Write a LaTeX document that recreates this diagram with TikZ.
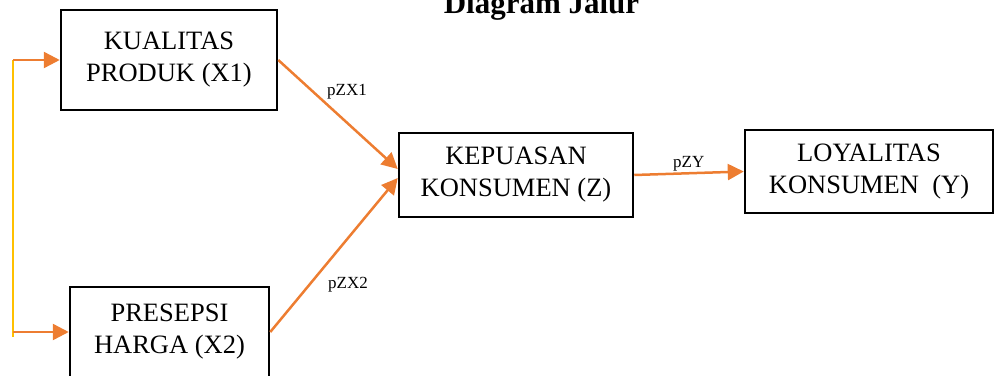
\documentclass[tikz,border=0pt]{standalone}
\usepackage{fontspec}
\setmainfont{Liberation Serif}
\usetikzlibrary{arrows.meta}
\definecolor{arrorange}{HTML}{ED7D31}
\definecolor{lineyellow}{HTML}{FFC000}
\tikzset{
  boxnode/.style={draw=black, line width=2.5pt, inner sep=0pt, align=center,
    font=\fontsize{26.5}{32}\selectfont},
  conn/.style={draw=arrorange, line width=2.5pt, -{Triangle[length=16pt,width=16pt]}},
  pathlabel/.style={font=\fontsize{17}{20}\selectfont, anchor=base west, inner sep=0pt},
}
\begin{document}
\begin{tikzpicture}[x=1pt,y=-1pt]
\useasboundingbox (0,0) rectangle (995,375);
\clip (0,0) rectangle (995,375);
\node[font=\bfseries\fontsize{31}{36}\selectfont, anchor=base, inner sep=0pt] (title) at (541.5,13) {Diagram Jalur};
\node[boxnode, minimum width=216pt, minimum height=100pt] (x1) at (169,60) {KUALITAS\\PRODUK (X1)};
\node[boxnode, minimum width=199pt, minimum height=90pt] (x2) at (169.5,332) {PRESEPSI\\HARGA (X2)};
\node[boxnode, minimum width=234pt, minimum height=84pt] (z) at (516,175) {KEPUASAN\\KONSUMEN (Z)};
\node[boxnode, minimum width=248pt, minimum height=83pt] (y) at (869,171.5) {LOYALITAS\\KONSUMEN~~(Y)};
\coordinate (ytop) at (13,60);
\coordinate (ybot) at (13,337);
\coordinate (ylow) at (13,332);
\draw[draw=lineyellow, line width=2.5pt] (ytop) -- (ybot);
\draw[conn] (ytop) -- (x1.west);
\draw[conn] (ylow) -- (x2.west);
\draw[conn] (x1.east) -- ([yshift=6pt]z.west);
\draw[conn] (x2.east) -- ([yshift=-3pt]z.west);
\draw[conn] (z.east) -- (y.west);
\node[pathlabel] (l1) at (327,95) {pZX1};
\node[pathlabel] (l2) at (328,288) {pZX2};
\node[pathlabel] (l3) at (673,167) {pZY};
\end{tikzpicture}
\end{document}
